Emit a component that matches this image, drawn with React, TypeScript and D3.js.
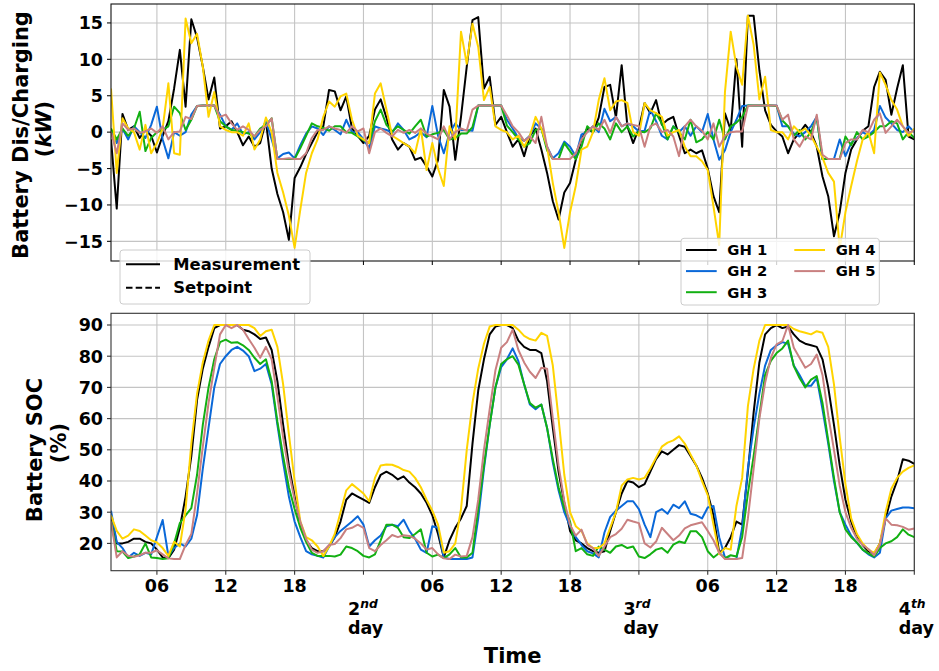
import React from "react";
import * as d3 from "d3";

// Sampling grid: every half hour from 02:00 on day 1 to 00:00 on day 4 (141 samples)
const HOURS: number[] = d3.range(0, 141).map((i) => 2 + i * 0.5);

const SERIES_NAMES = ["GH 1", "GH 2", "GH 3", "GH 4", "GH 5"];
const SERIES_COLORS = ["#000000", "#0a68d8", "#12b012", "#ffd400", "#c98080"];

// Battery dis/charging power (kW)
const POWER_GH1 = [
  -1, -10.5, 2.5, 0.3, 0.8, -0.8, 0.3, -0.5, -2.8, -0.5, 1.5, 6,
  11.3, 3.5, 15.5, 13, 9, 4.5, 7.5, 0.5, 0.8, 1.5, 0, -1.8,
  -0.6, -2, -1.5, 1.5, -5, -8.5, -11, -14.8, -6.3, -4.8, -3, -1.5,
  0, 0.8, 5.8, 5.6, 3, 4.9, 0.5, -0.5, -1.5, -0.5, 3.1, 4.5,
  2, -1, -2.4, -1.5, -2, -3.8, -3.5, -4.7, -6.1, -3.8, 5.8, 3.5,
  -3.8, 2.1, 9, 15.4, 15.8, 6, 7.6, 1, 2.1, 0, -2, -1,
  -3.3, -0.5, 0.5, -2.4, -5.6, -9.5, -12, -8.3, -7, -3.8, -1, 0.5,
  0, 2, 6.2, 6.5, 2, 9.2, 0.8, -1.5, 0.5, 4, 2.6, 4.4,
  1, 1.7, 2.1, -0.5, -2.9, -2.4, -2.9, -2.5, -5, -8.8, -11, 2.6,
  0.3, 10, -2, 16, 16, 8.5, 3, 1, 0.1, -0.6, -2.9, -1,
  -0.1, 1, 0, -2, -6.1, -8.8, -14.3, -11, -5.6, -2.4, -1, 0.2,
  0.8, 6.2, 8.3, 7.2, 2.4, 6, 9.2, -0.6,
  -1,
];
const POWER_GH2 = [
  0, -1.5, 0.5, -1, 0.8, 0, -0.8, 1, 3.5, -1, -3.6, 0,
  -0.5, 0, 2.4, 3.6, 3.65, 3.65, 3.65, 2.4, 0.8, 0.3, 1.2, -0.3,
  0, -1, 0, 1.5, -1, -3.6, -3, -2.8, -3.6, -1.8, -0.2, 0.8,
  0.5, -0.4, 0.8, 0.3, -0.3, 1.7, 0, 0, -1, -2.2, 0.8, 0.5,
  0.3, -0.1, 1.2, 0.3, -1, -0.6, 0, -0.7, 3.6, -0.5, -2.9, -0.1,
  1.2, 0.3, 0.3, 0.2, 3.65, 3.65, 3.65, 3.65, 3.65, 1.7, 0.5, -0.8,
  -1.2, -0.5, 1.2, 0.5, -2, -3.6, -2.9, -1.3, -2, -3.3, -0.3, 0,
  0.8, 0, 3.2, 1.5, 2.1, 0.8, 1.2, 0.8, 0.1, 0.2, 3.1, 1.5,
  -0.5, -1, 0.8, 0, 0.8, -0.5, 0.8, 0, 2.5, -1, -3.8, -2.5,
  0, 1.7, 3.6, 3.65, 3.65, 3.65, 3.65, 3.65, 3.65, 0.8, 0.8, -0.2,
  -0.6, 0, 0.8, 2.1, -3.7, -3.7, -3.7, -1, -3.3, -1.5, -0.8, 0,
  -0.5, 0.3, 3.6, 2, 1.2, 0.3, 0, 0.8,
  0,
];
const POWER_GH3 = [
  0.5, -1, 0.5, -0.5, 0.5, 2.8, -2.6, -0.8, 0, 0.3, 0.8, 3.5,
  2.6, 0.3, 1.7, 3.6, 3.65, 3.65, 3.65, 1.5, 0.8, 0.3, 0.2, 0,
  -0.2, -0.6, 0.5, 1, 1.9, -3.7, -3.7, -3.7, -3.7, -2.2, -0.5, 1.2,
  0.8, 0.6, 0.2, 0.8, 0.8, 0, -0.1, -0.6, -1.1, -1.5, 1.5, 3.1,
  1, 0.1, 0.8, 0.3, -0.2, 0.8, 1.7, -0.6, -0.3, -0.1, 0.3, -1,
  -0.8, -0.2, -0.2, 0.7, 3.65, 3.65, 3.65, 3.65, 3.65, 0.9, 0, -1,
  -2, -1.5, 0.3, 0.5, -2.5, -3.7, -3.7, -1.5, -2.6, -3.7, -2, 0.8,
  0, 1.2, 0.5, -1, 1.2, 0, 0.8, -0.6, 0.1, 0, 0.5, 2.6,
  1.2, -1, 0.8, 0, -1, 1.7, -1.4, -1, 0, -1, 1.7, -1,
  0.8, 1.3, 2.1, 3.65, 3.65, 3.65, 3.65, 3.65, 3.6, 1.6, 0.8, -0.5,
  0.3, -1, 0, 2, -3.7, -3.7, -3.7, -3.7, -0.6, -1.8, 0, -1,
  -0.6, 0, 0.8, 0.8, 1.5, 1.2, -1, 0,
  -0.8,
];
const POWER_GH4 = [
  6, -5.6, 1.9, 0.5, 0, -2.4, 1, -2.9, -1.5, 0.5, 6.7, -2.9,
  -3.1, 15.6, 12.2, 13.5, 9, 2.1, 5.5, 0.8, 0.3, 0, 0, -0.5,
  1.2, -2.4, -1, 2, 0, -5.6, -8.3, -11.5, -15.9, -10.6, -5.6, -2.9,
  -1, 2.1, 4.2, 3.5, 4.9, 5.3, 1.7, -0.5, -1, -1.5, 5.3, 6.7,
  3.1, -0.5, -1, -1.5, -2, -2.9, 0.5, -5.2, -1.5, -5, -7.4, 0.8,
  -1, 13.8, 9.4, 14.9, 11.7, 4.4, 6.2, 0.8, 0.3, 0, -1, -0.5,
  -2, -0.5, 2.1, 0.5, -2, -7, -11, -15.9, -11, -7.4, -2.4, -2,
  0, 4.4, 7.4, 3, 4.2, 4.4, 4, 0, -0.5, 4, 3, 2.6,
  2.1, -0.5, 0, 0.3, -2, -3.3, -3.3, -4, -5.2, -10.2, -15.5, 5.5,
  13.8, 9, 6.5, 16, 12, 4.5, 7.6, 0.3, 0, 0, -1, 0.8,
  0, 0.5, -0.5, -2, -3.5, -5.6, -6.8, -16, -11, -7.4, -4, -1,
  0, -2.9, 8.2, 6.5, 4.4, 3.1, 0.8, -0.5,
  0.5,
];
const POWER_GH5 = [
  0, -2.9, 1.2, 0.3, 0.5, -0.1, 0.1, 0.5, -0.1, 0.8, -1, 0,
  0.1, 2.1, 1.8, 3.6, 3.65, 3.65, 3.65, 2.1, 2.4, 1.2, 0.3, 0.8,
  0.3, -0.6, 0.3, 0.8, 1.9, -3.7, -3.7, -3.6, -3.7, -3.7, -2.9, -0.8,
  0.3, 0.3, 0.8, 0.5, 0.3, -0.1, 0.8, 0.1, 0.5, -2.9, 0, 0.5,
  -0.1, -0.6, 0.3, -0.1, 0.3, -0.1, 0.5, -0.2, -0.6, -1, 0.8, -1,
  0, 0.5, 0.2, 3.1, 3.65, 3.65, 3.65, 3.65, 3.65, 2.3, 0.8, 0,
  -1.2, -0.6, -1.5, 2.1, -2, -3.7, -3.7, -3.7, -3.7, -2.9, -1, 0,
  0.8, 0.3, 1.7, -0.1, 2.1, 0.8, 1.2, 1, 0.8, -2, 0.8, 1.2,
  0, 0.3, -0.6, -3.3, 0.8, 1.7, 0.8, 0.2, -1, 1.2, -2, -0.5,
  0, 0.1, 0.1, 3.6, 3.65, 3.65, 3.65, 3.65, 3.65, 1.7, 2.4, -1,
  -2, -0.6, -1, 2.4, -3.1, -3.7, -3.7, -3.7, -1.5, -1, -1, 0.3,
  0, 1.7, 2.6, -0.1, 0.8, 1.7, 0.8, -0.1,
  0.2,
];

// Battery state of charge (%)
const SOC_GH1 = [
  29, 20, 20, 20.5, 21.5, 21.5, 20.5, 20, 18, 15.5, 15.3, 18,
  25, 35, 48, 66, 76, 83, 89, 90, 90, 90, 90, 88.5,
  88, 87, 85.5, 86, 82, 72, 58, 45, 35, 26, 21, 18.5,
  17.5, 17.5, 19, 22, 27, 34, 36, 35, 34, 33, 38, 42,
  43, 42, 40.5, 41.5, 39.5, 38, 36, 33, 29, 23, 15.5, 21,
  25, 28, 32, 52, 69, 79, 87, 89.5, 90, 90, 89, 85,
  83, 82, 82, 81, 72, 57, 43, 33, 24, 21, 20, 18.5,
  17.5, 17, 17.5, 24, 30, 36, 40, 39.5, 38, 39, 43, 47,
  49.5, 48.5, 50, 51.5, 51, 48, 45, 41, 36, 29, 17, 18.5,
  22, 27, 26, 43, 62, 78, 87, 89, 90, 89, 89.5, 87,
  85, 84, 83.5, 83, 79, 70, 58, 45, 34, 27, 22, 19.5,
  17.5, 16.5, 20, 28, 35, 40, 47, 46.5,
  45.5,
];
const SOC_GH2 = [
  30.5, 20.5, 18.5, 15.5, 17, 16, 17, 16.5, 22, 27.5, 16, 18.5,
  20, 19, 21.5, 29, 44, 57, 70, 77.5, 80, 82, 83, 81.8,
  80, 75.2, 76, 77.5, 71, 58, 46, 35, 27, 22, 17.5, 16.5,
  16, 15.5, 19, 22, 24, 25.5, 27, 28.7, 26, 19, 21, 22.5,
  25.5, 26, 25.5, 27.6, 24, 21.5, 18, 17, 25.5, 25, 15.5, 15,
  15, 15, 15, 15.5, 28, 44, 58, 70, 76.5, 79, 82.5, 78.4,
  71, 64.5, 63, 64.5, 57, 46, 37, 30, 25.5, 22, 19.5, 17.5,
  16.8, 15.5, 23.5, 28.5, 30.5, 32, 33.5, 33.5, 31, 26, 22, 30,
  31, 29.5, 32.4, 31.3, 33.5, 29.5, 29, 28, 31.5, 32, 22, 15.5,
  15, 15, 25, 44, 57, 68, 77, 82, 83.5, 84.5, 84, 77,
  74, 70.5, 70.5, 73, 63, 52, 40, 30, 26, 22.5, 20.2, 18,
  16.5, 15.5, 17, 28, 30.5, 31, 31.5, 31.5,
  31.3,
];
const SOC_GH3 = [
  27, 17.5, 17.4, 15.3, 15.8, 16.5, 20, 15.5, 15.3, 15, 15.2, 20,
  26.5, 29, 31.3, 42, 58, 70, 79, 84.5, 85.3, 84.3, 84.5, 83.5,
  82, 79.5, 77.5, 79, 72, 59, 48, 38, 31, 25, 20.5, 17,
  16, 16, 16, 15.8, 16.4, 19, 18.5, 17.5, 16, 15.5, 16.5, 21,
  26, 26, 25, 22, 21.7, 23, 24.5, 17, 15.8, 16.4, 15.3, 16.5,
  18.5, 15.5, 15.5, 17, 31, 45, 58, 70, 77.5, 79, 80, 77.3,
  71, 65, 63.5, 64.5, 57, 47, 38, 31.3, 27, 17.5, 18.5, 16.5,
  16, 19, 18, 17, 19, 19.5, 18.5, 19, 15.8, 15.3, 16.5, 18,
  18.5, 17, 19.6, 20.6, 20.1, 23.9, 23.9, 22, 17.5, 15.5, 16.9, 15.3,
  16.2, 15.8, 22, 36, 48, 61, 74, 78.5, 81, 82.5, 85, 76.8,
  73, 70, 72.5, 73.6, 65, 53, 41, 30, 24.5, 22, 20.3, 18,
  16.8, 15.8, 18.5, 20, 20.7, 22, 24.5, 22.8,
  22,
];
const SOC_GH4 = [
  29, 24, 21.5, 22.5, 24.5, 24, 22.5, 21, 20.3, 18.5, 16, 20.5,
  19, 31, 52, 68, 78, 85, 90, 90, 90, 90, 90, 90,
  90, 89, 86.5, 88, 88.5, 83, 71, 55, 40, 27, 22, 21,
  19, 16, 19, 23, 30, 37, 39, 37.5, 36, 33.5, 41, 45,
  45.3, 45.2, 44.5, 43.5, 43, 41, 38, 34, 30.5, 26, 17, 17.5,
  20, 31, 50, 65, 76, 84, 89.5, 90, 90, 90, 90, 88.5,
  86.5, 85.5, 85, 87.5, 86.5, 77, 60, 42, 30, 25.5, 24, 20,
  18.5, 18.5, 20, 25, 30, 38.5, 40.5, 41, 40.5, 41, 44, 47.5,
  51, 52.3, 53, 54.3, 52, 48.5, 45, 40, 35.5, 26, 16.5, 18.5,
  18, 32, 41, 64, 76, 85, 90, 90, 90, 90, 90, 88.7,
  88, 87.5, 87, 88, 87.5, 83, 71, 54, 39, 28, 23, 20,
  18, 17, 20, 30, 37.5, 41, 43, 44.2,
  45,
];
const SOC_GH5 = [
  27, 15.5, 17.5, 16, 15.7, 16.2, 17, 17, 17.8, 16.5, 15.2, 15,
  15, 19.5, 23, 36, 51, 65, 76.3, 87, 90, 89, 90, 88.5,
  85.5, 82.7, 79.5, 83, 79, 67, 54, 43, 34, 27, 21.5, 18,
  17, 17.5, 19.5, 19.8, 21.7, 24.5, 25, 26, 25, 18.5, 17.5, 19.5,
  21, 22.7, 22, 22.6, 22.4, 21.5, 20, 18, 18.5, 16.5, 15.2, 15,
  16.4, 15.8, 16, 22, 34, 50, 63, 75.5, 82.7, 84.5, 88.5, 82,
  78, 75, 73, 76.3, 76, 60, 45, 33.5, 26, 22.5, 24.4, 19.5,
  18.5, 16, 19, 22, 23, 24.7, 27.6, 27, 26.5, 20, 18.7, 20.6,
  25, 23, 21, 22.5, 24.8, 25.8, 26.3, 26.8, 24, 21, 17, 15,
  15, 15, 15.3, 28, 44, 60, 71.5, 79.5, 83.8, 84.8, 90, 82.7,
  79.5, 76.3, 77.5, 80.5, 74, 61, 50, 38.5, 30, 25, 21.5, 19.5,
  18.2, 16.2, 19.5, 28, 26, 25.8, 25.3, 24.4,
  24.8,
];

const POWER = [POWER_GH1, POWER_GH2, POWER_GH3, POWER_GH4, POWER_GH5];
const SOC = [SOC_GH1, SOC_GH2, SOC_GH3, SOC_GH4, SOC_GH5];

const X_TICKS = [6, 12, 18, 24, 30, 36, 42, 48, 54, 60, 66, 72];
const HOUR_LABELS = ["06", "12", "18"];
const DAY_LABELS: Record<number, [string, string]> = {
  24: ["2", "nd"],
  48: ["3", "rd"],
  72: ["4", "th"],
};
const POWER_TICKS = [-15, -10, -5, 0, 5, 10, 15];
const SOC_TICKS = [20, 30, 40, 50, 60, 70, 80, 90];

const FONT = "'DejaVu Sans', 'Liberation Sans', sans-serif";
const LEFT = 111;
const RIGHT = 914.3;
const TOP1 = 4;
const BOT1 = 261;
const TOP2 = 313.3;
const BOT2 = 570.7;

const x = d3.scaleLinear().domain([2, 72]).range([LEFT, RIGHT]);
const yPow = d3.scaleLinear().domain([-17.7, 17.6]).range([BOT1, TOP1]);
const ySoc = d3.scaleLinear().domain([11.25, 93.75]).range([BOT2, TOP2]);

function fmtMinus(v: number) {
  return v < 0 ? "\u2212" + Math.abs(v) : String(v);
}

function Panel(props: {
  id: string;
  top: number;
  bottom: number;
  y: d3.ScaleLinear<number, number>;
  ticks: number[];
  data: number[][];
  spine: string;
}) {
  const { id, top, bottom, y, ticks, data, spine } = props;
  const line = d3
    .line<number>()
    .x((_, i) => x(HOURS[i]))
    .y((d) => y(d));
  return (
    <g>
      <defs>
        <clipPath id={id}>
          <rect x={LEFT} y={top} width={RIGHT - LEFT} height={bottom - top} />
        </clipPath>
      </defs>
      {X_TICKS.map((t) => (
        <line key={"gx" + t} x1={x(t)} x2={x(t)} y1={top} y2={bottom} stroke="#c4c4c4" strokeWidth={1.1} />
      ))}
      {ticks.map((v) => (
        <line key={"gy" + v} x1={LEFT} x2={RIGHT} y1={y(v)} y2={y(v)} stroke="#c4c4c4" strokeWidth={1.1} />
      ))}
      <g clipPath={`url(#${id})`}>
        {data.map((s, k) => (
          <path
            key={k}
            d={line(s) || ""}
            fill="none"
            stroke={SERIES_COLORS[k]}
            strokeWidth={2}
            strokeLinejoin="round"
          />
        ))}
      </g>
      <rect x={LEFT} y={top} width={RIGHT - LEFT} height={bottom - top} fill="none" stroke={spine} strokeWidth={1.1} />
      {X_TICKS.map((t) => (
        <line key={"tx" + t} x1={x(t)} x2={x(t)} y1={bottom} y2={bottom + 4} stroke={spine} strokeWidth={1.1} />
      ))}
      {ticks.map((v) => (
        <g key={"ty" + v}>
          <line x1={LEFT - 4} x2={LEFT} y1={y(v)} y2={y(v)} stroke={spine} strokeWidth={1.1} />
          <text
            x={LEFT - 8}
            y={y(v)}
            dy="0.36em"
            textAnchor="end"
            fontFamily={FONT}
            fontWeight="bold"
            fontSize={17.5}
            fill="#000"
          >
            {fmtMinus(v)}
          </text>
        </g>
      ))}
    </g>
  );
}

export default function App() {
  const legendText = (size: number) => ({
    fontFamily: FONT,
    fontWeight: "bold" as const,
    fontSize: size,
    fill: "#000",
  });
  return (
    <svg width={939} height={671} style={{ display: "block", position: "absolute", left: 0, top: 0, background: "#fff" }}>
      <rect x={0} y={0} width={939} height={671} fill="#fff" />
      <Panel id="clip-pow" top={TOP1} bottom={BOT1} y={yPow} ticks={POWER_TICKS} data={POWER} spine="#111" />
      <Panel id="clip-soc" top={TOP2} bottom={BOT2} y={ySoc} ticks={SOC_TICKS} data={SOC} spine="#333" />

      {/* x tick labels under the SOC panel */}
      {X_TICKS.map((t, i) => {
        const day = DAY_LABELS[t];
        if (day) {
          const sx = x(t) - 15.5;
          return (
            <g key={"xl" + t} fontFamily={FONT} fontWeight="bold" fill="#000">
              <text x={sx} y={615} fontSize={17.5}>
                {day[0]}
                <tspan fontSize={12.3} fontStyle="italic" dy={-6.7}>
                  {day[1]}
                </tspan>
              </text>
              <text x={sx} y={634} fontSize={17.5}>
                day
              </text>
            </g>
          );
        }
        return (
          <text
            key={"xl" + t}
            x={x(t)}
            y={592}
            textAnchor="middle"
            fontFamily={FONT}
            fontWeight="bold"
            fontSize={17.5}
            fill="#000"
          >
            {HOUR_LABELS[i % 4]}
          </text>
        );
      })}

      {/* axis titles */}
      <text x={(LEFT + RIGHT) / 2} y={662.7} textAnchor="middle" fontFamily={FONT} fontWeight="bold" fontSize={21}>
        Time
      </text>
      <g fontFamily={FONT} fontWeight="bold" fontSize={21} fill="#000">
        <text transform="translate(27.5,135) rotate(-90)" textAnchor="middle">
          Battery Dis/Charging
        </text>
        <text transform="translate(51,129) rotate(-90)" textAnchor="middle">
          (<tspan fontStyle="italic">kW</tspan>)
        </text>
        <text transform="translate(42,450) rotate(-90)" textAnchor="middle">
          Battery SOC
        </text>
        <text transform="translate(65.5,443) rotate(-90)" textAnchor="middle">
          (%)
        </text>
      </g>

      {/* measurement / setpoint legend */}
      <rect x={120} y={250} width={190} height={54} rx={3} fill="#fff" fillOpacity={0.8} stroke="#cccccc" />
      <line x1={126} x2={160} y1={264.3} y2={264.3} stroke="#000" strokeWidth={2} />
      <line x1={126} x2={160} y1={287.8} y2={287.8} stroke="#000" strokeWidth={2} strokeDasharray="6.5,3.2" />
      <text x={173.3} y={269.8} {...legendText(16.4)}>
        Measurement
      </text>
      <text x={173.3} y={293.4} {...legendText(16.4)}>
        Setpoint
      </text>

      {/* greenhouse legend */}
      <rect x={681} y={238.3} width={198.3} height={66.7} rx={3} fill="#fff" fillOpacity={0.8} stroke="#cccccc" />
      {SERIES_NAMES.map((name, k) => {
        const col = k < 3 ? 0 : 1;
        const row = k < 3 ? k : k - 3;
        const lx = col === 0 ? 686 : 794.3;
        const tx = col === 0 ? 727.3 : 835.7;
        const ly = 250 + row * 21.1;
        return (
          <g key={name}>
            <line x1={lx} x2={lx + 30.7} y1={ly} y2={ly} stroke={SERIES_COLORS[k]} strokeWidth={2} />
            <text x={tx} y={ly + 5.3} {...legendText(14.8)}>
              {name}
            </text>
          </g>
        );
      })}
    </svg>
  );
}
